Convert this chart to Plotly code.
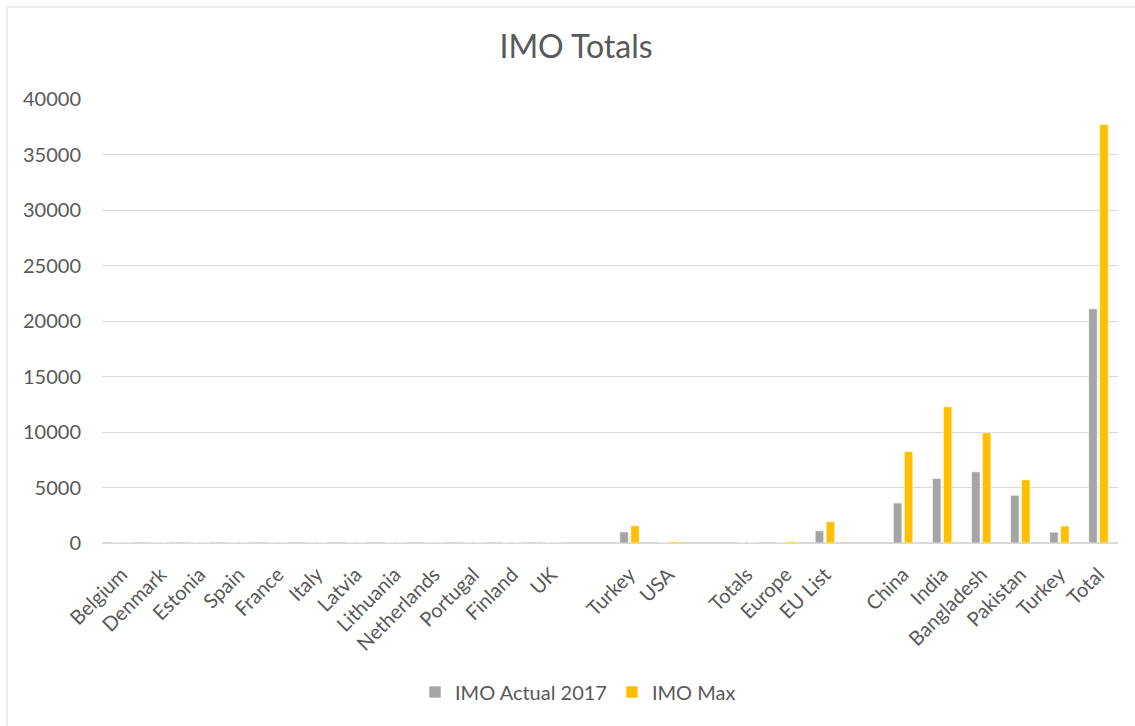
import plotly.graph_objects as go

categories = ["Belgium", "Denmark", "Estonia", "Spain", "France", "Italy", "Latvia",
              "Lithuania", "Netherlands", "Portugal", "Finland", "UK", "",
              "Turkey", "USA", "", "Totals", "Europe", "EU List", "",
              "China", "India", "Bangladesh", "Pakistan", "Turkey", "Total"]
imo_actual_2017 = [0, 0, 0, 0, 0, 0, 0, 0, 0, 0, 0, 0, None,
                   1000, 0, None, 0, 0, 1100, None,
                   3600, 5820, 6420, 4300, 980, 21100]
imo_max = [0, 0, 0, 0, 0, 0, 0, 0, 0, 0, 0, 0, None,
           1550, 120, None, 0, 120, 1920, None,
           8240, 12270, 9940, 5700, 1540, 37700]
y_ticks = [0, 5000, 10000, 15000, 20000, 25000, 30000, 35000, 40000]

positions = list(range(len(categories)))
FONT = "Lato"
TXT = "#595959"

fig = go.Figure()
fig.add_trace(go.Bar(x=positions, y=imo_actual_2017, name="IMO Actual 2017",
                     marker=dict(color="#A5A5A5", line=dict(color="white", width=0.6))))
fig.add_trace(go.Bar(x=positions, y=imo_max, name="IMO Max",
                     marker=dict(color="#FFC000", line=dict(color="white", width=0.6))))

W, H = 1135, 726
L, R, T, B = 102, 17, 99, 183
pw, ph = W - L - R, H - T - B

def px_x(p):
    return (p - L) / pw

def px_y(p):
    return (H - B - p) / ph

fig.update_layout(
    width=W, height=H,
    margin=dict(l=L, r=R, t=T, b=B),
    paper_bgcolor="white", plot_bgcolor="white",
    barmode="group", bargap=0.44, bargroupgap=0.22,
    font=dict(family=FONT, color=TXT, size=20),
    title=dict(text="IMO Totals", x=576 / W, xref="container", xanchor="center",
               y=1 - 47 / H, yref="container", yanchor="middle",
               font=dict(family=FONT, size=32, color=TXT)),
    xaxis=dict(range=[-0.5, len(categories) - 0.5], tickmode="array",
               tickvals=positions, ticktext=categories, tickangle=-45,
               showgrid=False, zeroline=False, showline=False,
               ticks="outside", ticklen=11, tickcolor="rgba(0,0,0,0)",
               tickfont=dict(family=FONT, size=20, color=TXT)),
    yaxis=dict(range=[0, 40000], tickmode="array", tickvals=y_ticks,
               ticktext=[str(v) for v in y_ticks],
               showgrid=True, gridcolor="#D9D9D9", gridwidth=1,
               zeroline=True, zerolinecolor="#D9D9D9", zerolinewidth=1.5,
               showline=False, ticks="outside", ticklen=16,
               tickcolor="rgba(0,0,0,0)",
               tickfont=dict(family=FONT, size=20, color=TXT)),
    legend=dict(orientation="h", xref="container", yref="container",
                x=578 / W, xanchor="center", y=1 - 692 / H, yanchor="middle",
                font=dict(family=FONT, size=20, color=TXT),
                itemwidth=30, tracegroupgap=0),
    shapes=[dict(type="rect", xref="paper", yref="paper",
                 x0=px_x(7), x1=px_x(1145), y0=px_y(735), y1=px_y(7),
                 line=dict(color="#D9D9D9", width=1), fillcolor="rgba(0,0,0,0)",
                 layer="below")],
)

fig.write_html("out.html")
